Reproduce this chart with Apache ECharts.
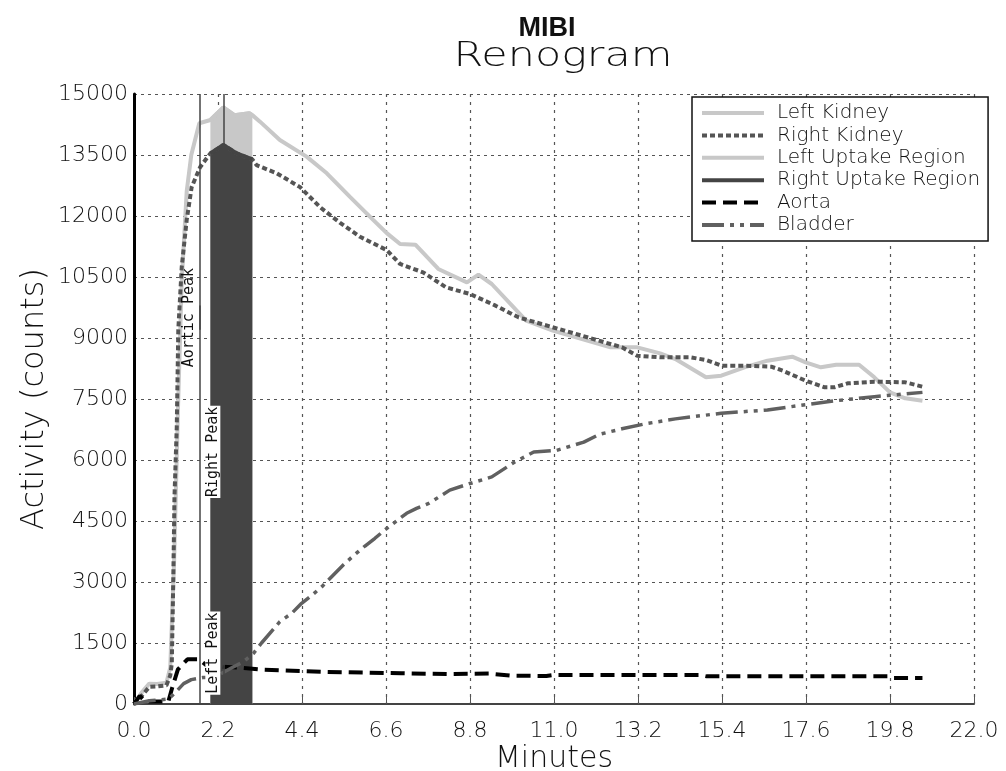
<!DOCTYPE html>
<html>
<head>
<meta charset="utf-8">
<script src="https://cdn.jsdelivr.net/npm/echarts@6/dist/echarts.min.js"></script>
<style>
  html, body { margin: 0; padding: 0; background: #fff; }
  #chart { width: 1006px; height: 771px; }
</style>
</head>
<body>
<div id="chart"></div>
<script>
// Renogram time-activity curves (time in minutes, activity in counts)
const leftKidneyT = [0.0, 0.2, 0.4, 0.6, 0.85, 0.95, 1.05, 1.15, 1.25, 1.38, 1.5, 1.71, 2.0, 2.34, 2.63, 3.02, 3.1, 3.3, 3.82, 4.52, 5.05, 5.65, 6.27, 6.62, 6.97, 7.37, 7.97, 8.72, 9.02, 9.37, 10.27, 10.97, 12.48, 13.18, 13.78, 14.18, 14.98, 15.38, 15.99, 16.59, 17.24, 17.59, 17.99, 18.39, 18.99, 19.39, 19.8, 20.2, 20.65];
const leftKidneyV = [0, 280, 500, 490, 520, 900, 3500, 7200, 10400, 12600, 13500, 14280, 14360, 14670, 14480, 14525, 14480, 14320, 13870, 13460, 13050, 12475, 11900, 11580, 11310, 11295, 10697, 10369, 10557, 10328, 9426, 9180, 8770, 8770, 8623, 8483, 8033, 8074, 8279, 8443, 8541, 8402, 8279, 8344, 8344, 8033, 7664, 7516, 7459];

const rightKidneyT = [0.0, 0.2, 0.4, 0.6, 0.85, 0.95, 0.99, 1.03, 1.06, 1.12, 1.16, 1.25, 1.38, 1.51, 1.73, 2.0, 2.34, 2.69, 3.1, 3.21, 3.74, 4.35, 4.87, 5.4, 5.92, 6.62, 6.97, 7.57, 8.17, 8.8, 9.47, 10.07, 10.67, 11.28, 12.18, 12.78, 13.18, 13.78, 14.58, 14.98, 15.38, 15.99, 16.69, 16.99, 17.59, 18.09, 18.34, 18.69, 19.39, 20.2, 20.65];
const rightKidneyV = [0, 200, 420, 430, 460, 700, 1000, 3120, 5090, 6810, 9200, 10745, 11900, 12710, 13200, 13540, 13745, 13540, 13390, 13250, 13050, 12710, 12220, 11830, 11490, 11160, 10820, 10615, 10246, 10082, 9795, 9508, 9344, 9180, 8934, 8770, 8565, 8524, 8524, 8459, 8320, 8320, 8295, 8197, 7951, 7787, 7787, 7885, 7926, 7910, 7803];

const aortaT = [0.0, 0.15, 0.3, 0.9, 1.0, 1.15, 1.4, 1.7, 1.9, 2.3, 2.7, 3.4, 5.0, 7.0, 8.2, 9.3, 9.9, 10.8, 11.0, 14.8, 15.0, 19.8, 19.9, 20.65];
const aortaV = [0, 200, 60, 60, 400, 850, 1100, 1100, 950, 920, 900, 840, 790, 755, 735, 750, 695, 690, 715, 715, 680, 680, 640, 640];

const bladderT = [0.0, 0.4, 0.9, 1.1, 1.3, 1.5, 1.8, 2.1, 2.56, 2.85, 3.13, 3.34, 3.82, 4.13, 4.39, 4.65, 4.92, 5.48, 5.74, 6.05, 6.31, 6.57, 7.14, 7.4, 7.72, 8.27, 8.8, 9.37, 9.97, 10.47, 11.07, 11.78, 12.18, 12.78, 13.38, 14.18, 15.38, 16.59, 17.59, 18.39, 19.39, 20.65];
const bladderV = [0, 80, 120, 300, 500, 600, 650, 650, 890, 1030, 1245, 1500, 2025, 2230, 2475, 2665, 2885, 3418, 3640, 3885, 4075, 4280, 4690, 4810, 4933, 5259, 5422, 5585, 5951, 6196, 6237, 6440, 6628, 6767, 6889, 7011, 7150, 7231, 7361, 7459, 7557, 7663];

// Uptake window (minutes) and peak markers
const uptakeStart = 2.0;
const uptakeEnd = 3.1;
const peakNames = ['Aortic Peak', 'Right Peak', 'Left Peak'];
const peakTimes = [1.71, 2.34, 2.34];
const peakLabelLevels = [9500, 6200, 1250];

// Axis ranges and tick steps
const xMin = 0, xMax = 22, xStep = 2.2;
const yMin = 0, yMax = 15000, yStep = 1500;

const legendNames = ['Left Kidney', 'Right Kidney', 'Left Uptake Region', 'Right Uptake Region', 'Aorta', 'Bladder'];

const zip = (t, v) => t.map((x, i) => [x, v[i]]);
const inWindow = p => p[0] >= uptakeStart && p[0] <= uptakeEnd;

const leftKidney = zip(leftKidneyT, leftKidneyV);
const rightKidney = zip(rightKidneyT, rightKidneyV);
const leftUptake = leftKidney.filter(inWindow);
const rightUptake = rightKidney.filter(inWindow);

const thinFont = 'DejaVu Sans';
const markerLine = { color: '#444', width: 1.5, type: 'solid' };

// Full-height marker lines, plus short segments on the same lines that carry the rotated captions.
// Captions that sit over the uptake band get a white backing so they stay readable.
const peakLines = Array.from(new Set(peakTimes)).map(t => ({ xAxis: t, label: { show: false } }));
const peakCaptions = peakNames.map((n, i) => {
  const overBand = peakTimes[i] >= uptakeStart;
  return [
    { coord: [peakTimes[i], peakLabelLevels[i] - 300], name: n,
      label: overBand ? { backgroundColor: '#ffffff', padding: [0, 1] } : {} },
    { coord: [peakTimes[i], peakLabelLevels[i] + 300] }
  ];
});

const chart = echarts.init(document.getElementById('chart'), null, { renderer: 'canvas' });

chart.setOption({
  backgroundColor: '#ffffff',
  animation: false,
  graphic: [
    {
      type: 'text', x: 547, y: 29,
      style: { text: 'MIBI', font: 'bold 27px "Liberation Sans", Arial, sans-serif', fill: '#111', textAlign: 'center', textVerticalAlign: 'middle' }
    },
    {
      type: 'text', x: 563, y: 57, scaleX: 1.3,
      style: { text: 'Renogram', font: '200 33px "DejaVu Sans", sans-serif', fill: '#111', textAlign: 'center', textVerticalAlign: 'middle' }
    }
  ],
  grid: { left: 134, right: 32, top: 94, bottom: 67, containLabel: false, outerBoundsMode: 'none' },
  legend: {
    data: legendNames,
    orient: 'vertical',
    left: 692,
    top: 97,
    padding: [6, 8, 6, 8],
    itemWidth: 62,
    itemHeight: 14,
    itemGap: 2.4,
    backgroundColor: '#ffffff',
    borderColor: '#111',
    borderWidth: 1.5,
    borderRadius: 0,
    selectedMode: false,
    itemStyle: { opacity: 0, borderWidth: 0 },
    lineStyle: { width: 4 },
    textStyle: { fontFamily: thinFont, fontWeight: 200, fontSize: 20, color: '#111', padding: [0, 0, 0, 8], lineHeight: 20 }
  },
  xAxis: {
    type: 'value',
    min: xMin, max: xMax, interval: xStep,
    name: 'Minutes',
    nameLocation: 'middle',
    nameGap: 40,
    nameMoveOverlap: false,
    nameTextStyle: { fontFamily: thinFont, fontWeight: 200, fontSize: 30, color: '#111' },
    axisLine: { show: true, lineStyle: { color: '#444', width: 2 } },
    axisTick: { show: true, inside: true, length: 7, lineStyle: { color: '#555', width: 1 } },
    axisLabel: { margin: 16, fontFamily: thinFont, fontWeight: 200, fontSize: 22, color: '#111', formatter: v => v.toFixed(1) },
    splitLine: { show: true, lineStyle: { color: '#555', width: 1.2, type: [3, 5] } }
  },
  yAxis: {
    type: 'value',
    min: yMin, max: yMax, interval: yStep,
    name: 'Activity (counts)',
    nameLocation: 'middle',
    nameGap: 83,
    nameMoveOverlap: false,
    nameTextStyle: { fontFamily: thinFont, fontWeight: 200, fontSize: 32, color: '#111' },
    axisLine: { show: true, lineStyle: { color: '#000', width: 3 } },
    axisTick: { show: false },
    axisLabel: { margin: 6, fontFamily: thinFont, fontWeight: 200, fontSize: 22, color: '#111', formatter: v => String(v) },
    splitLine: { show: true, lineStyle: { color: '#555', width: 1.2, type: [3, 4] } }
  },
  series: [
    {
      name: 'Left Kidney', type: 'line', data: leftKidney, symbol: 'none',
      lineStyle: { color: '#c8c8c8', width: 4, type: 'solid' },
      itemStyle: { color: '#c8c8c8' }
    },
    {
      name: 'Right Kidney', type: 'line', data: rightKidney, symbol: 'none',
      lineStyle: { color: '#555555', width: 4, type: [5, 3] },
      itemStyle: { color: '#555555' }
    },
    {
      name: 'Left Uptake Region', type: 'line', data: leftUptake, symbol: 'none',
      lineStyle: { color: '#c8c8c8', width: 4 },
      itemStyle: { color: '#c8c8c8' },
      areaStyle: { color: '#c8c8c8', opacity: 1 }
    },
    {
      name: 'Right Uptake Region', type: 'line', data: rightUptake, symbol: 'none',
      lineStyle: { color: '#444444', width: 4 },
      itemStyle: { color: '#444444' },
      areaStyle: { color: '#444444', opacity: 1 }
    },
    {
      name: 'Aorta', type: 'line', data: zip(aortaT, aortaV), symbol: 'none',
      lineStyle: { color: '#000000', width: 4, type: [14, 7] },
      itemStyle: { color: '#000000' }
    },
    {
      name: 'Bladder', type: 'line', data: zip(bladderT, bladderV), symbol: 'none',
      lineStyle: { color: '#606060', width: 3.5, type: [22, 6, 4, 6, 4, 6] },
      itemStyle: { color: '#606060' }
    },
    {
      name: 'Peaks', type: 'line', data: [], symbol: 'none', silent: true, z: 5,
      markLine: {
        silent: true, symbol: 'none',
        lineStyle: markerLine,
        label: {
          show: true, position: 'insideMiddleTop', distance: 3,
          formatter: p => p.name,
          fontFamily: 'DejaVu Sans Mono', fontSize: 15, color: '#111'
        },
        data: peakLines.concat(peakCaptions)
      }
    }
  ]
});
</script>
</body>
</html>
